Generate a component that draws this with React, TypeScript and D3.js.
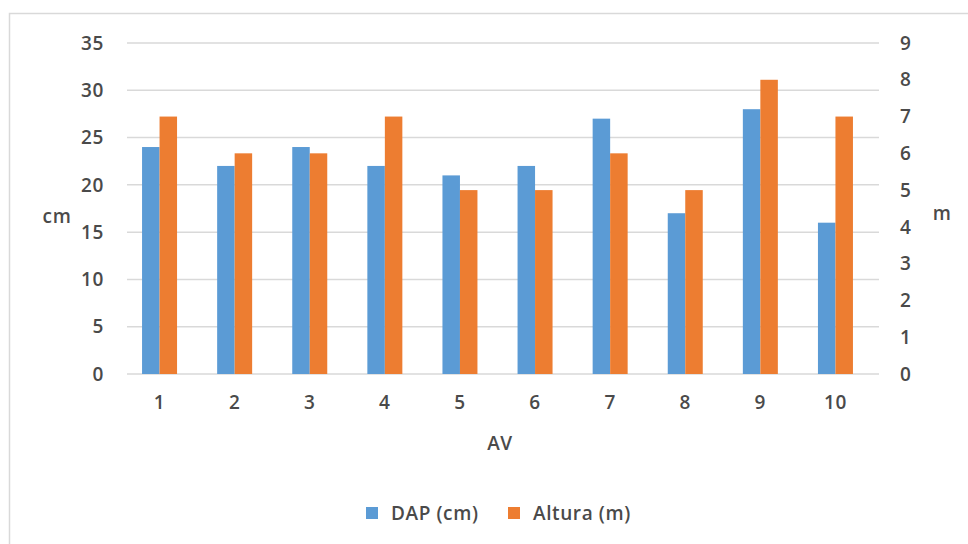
import * as React from 'react';
import * as d3 from 'd3';

const categories: string[] = ['1', '2', '3', '4', '5', '6', '7', '8', '9', '10'];
const dapValues: number[] = [24, 22, 24, 22, 21, 22, 27, 17, 28, 16];
const alturaValues: number[] = [7, 6, 6, 7, 5, 5, 6, 5, 8, 7];
const leftTicks: number[] = [0, 5, 10, 15, 20, 25, 30, 35];
const rightTicks: number[] = [0, 1, 2, 3, 4, 5, 6, 7, 8, 9];
const seriesNames: string[] = ['DAP (cm)', 'Altura (m)'];

const BLUE = '#5B9BD5';
const ORANGE = '#ED7D31';
const TEXT = '#4a4a4a';
const FONT = '"Open Sans", "DejaVu Sans", sans-serif';

export default function App() {
	const ref = React.useRef<SVGSVGElement>(null);

	React.useEffect(() => {
		const svg = d3.select(ref.current);
		svg.selectAll('*').remove();

		const top = 43;
		const bottom = 374;

		const x = d3.scaleBand().domain(categories).range([122, 873]);
		const yL = d3.scaleLinear().domain([0, 35]).range([bottom, top]);
		const yR = d3.scaleLinear().domain([0, 9]).range([bottom, top]);
		const barW = x.bandwidth() * 0.233;

		// chart border
		svg.append('rect')
			.attr('x', 9.5)
			.attr('y', 13.5)
			.attr('width', 980)
			.attr('height', 560)
			.attr('fill', 'none')
			.attr('stroke', '#D9D9D9')
			.attr('stroke-width', 1.5);

		// grid lines
		svg.append('g')
			.selectAll('line')
			.data(leftTicks)
			.join('line')
			.attr('x1', 127)
			.attr('x2', 879)
			.attr('y1', (d) => yL(d))
			.attr('y2', (d) => yL(d))
			.attr('stroke', '#D9D9D9')
			.attr('stroke-width', 1.5);

		// bars
		const g = svg.append('g');
		g.selectAll('rect.dap')
			.data(dapValues)
			.join('rect')
			.attr('class', 'dap')
			.attr('x', (d, i) => (x(categories[i]) as number) + x.bandwidth() / 2 - barW)
			.attr('y', (d) => yL(d))
			.attr('width', barW)
			.attr('height', (d) => bottom - yL(d))
			.attr('fill', BLUE);
		g.selectAll('rect.alt')
			.data(alturaValues)
			.join('rect')
			.attr('class', 'alt')
			.attr('x', (d, i) => (x(categories[i]) as number) + x.bandwidth() / 2)
			.attr('y', (d) => yR(d))
			.attr('width', barW)
			.attr('height', (d) => bottom - yR(d))
			.attr('fill', ORANGE);

		// left ticks
		svg.append('g')
			.selectAll('text')
			.data(leftTicks)
			.join('text')
			.attr('x', 104)
			.attr('y', (d) => yL(d))
			.attr('dy', '0.35em')
			.attr('text-anchor', 'end')
			.text((d) => d);

		// right ticks
		svg.append('g')
			.selectAll('text')
			.data(rightTicks)
			.join('text')
			.attr('x', 900)
			.attr('y', (d) => yR(d))
			.attr('dy', '0.35em')
			.text((d) => d);

		// x ticks
		svg.append('g')
			.selectAll('text')
			.data(categories)
			.join('text')
			.attr('x', (d) => (x(d) as number) + x.bandwidth() / 2)
			.attr('y', 402)
			.attr('dy', '0.35em')
			.attr('text-anchor', 'middle')
			.text((d) => d);

		// axis titles
		svg.append('text').attr('x', 57).attr('y', 216).attr('dy', '0.35em').attr('text-anchor', 'middle').text('cm');
		svg.append('text').attr('x', 942).attr('y', 213).attr('dy', '0.35em').attr('text-anchor', 'middle').text('m');
		svg.append('text').attr('x', 500).attr('y', 443).attr('dy', '0.35em').attr('text-anchor', 'middle').text('AV');

		// legend
		const legendX = [366, 508];
		const colors = [BLUE, ORANGE];
		const lg = svg.append('g');
		seriesNames.forEach((name, i) => {
			lg.append('rect').attr('x', legendX[i]).attr('y', 507).attr('width', 12).attr('height', 12).attr('fill', colors[i]);
			lg.append('text').attr('x', legendX[i] + 25).attr('y', 513).attr('dy', '0.35em').text(name);
		});

		svg.selectAll('text')
			.attr('font-family', FONT)
			.attr('font-size', 19)
			.attr('font-weight', 600)
			.attr('letter-spacing', 0.6)
			.attr('fill', TEXT);
	}, []);

	return (
		<svg ref={ref} width={968} height={544} style={{ position: 'absolute', left: 0, top: 0, background: '#fff' }} />
	);
}
